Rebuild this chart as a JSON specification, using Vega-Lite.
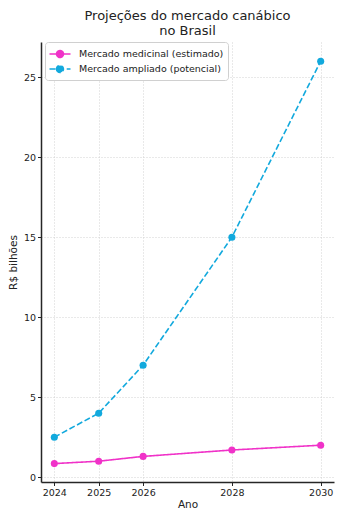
{
  "$schema": "https://vega.github.io/schema/vega-lite/v6.json",
  "width": 293,
  "height": 440,
  "autosize": "none",
  "padding": {"left": 41, "top": 42, "right": 9, "bottom": 38},
  "background": "white",
  "title": {
    "text": ["Projeções do mercado canábico", "no Brasil"],
    "font": "DejaVu Sans",
    "fontSize": 13,
    "fontWeight": "normal",
    "lineHeight": 15,
    "color": "#222222",
    "anchor": "middle",
    "offset": 4
  },
  "config": {
    "view": {"stroke": null},
    "font": "DejaVu Sans",
    "axis": {
      "labelFont": "DejaVu Sans",
      "titleFont": "DejaVu Sans",
      "labelFontSize": 9.5,
      "titleFontSize": 10.5,
      "titleFontWeight": "normal",
      "labelColor": "#222222",
      "titleColor": "#222222",
      "domainColor": "#262626",
      "domainWidth": 1.5,
      "tickColor": "#262626",
      "tickSize": 3.5,
      "tickWidth": 1,
      "gridColor": "#c8c8c8",
      "gridDash": [1, 2],
      "gridWidth": 0.8
    }
  },
  "data": {
    "values": [
      {"ano": 2024, "valor": 0.85, "serie": "Mercado medicinal (estimado)"},
      {"ano": 2025, "valor": 1.0, "serie": "Mercado medicinal (estimado)"},
      {"ano": 2026, "valor": 1.3, "serie": "Mercado medicinal (estimado)"},
      {"ano": 2028, "valor": 1.7, "serie": "Mercado medicinal (estimado)"},
      {"ano": 2030, "valor": 2.0, "serie": "Mercado medicinal (estimado)"},
      {"ano": 2024, "valor": 2.5, "serie": "Mercado ampliado (potencial)"},
      {"ano": 2025, "valor": 4.0, "serie": "Mercado ampliado (potencial)"},
      {"ano": 2026, "valor": 7.0, "serie": "Mercado ampliado (potencial)"},
      {"ano": 2028, "valor": 15.0, "serie": "Mercado ampliado (potencial)"},
      {"ano": 2030, "valor": 26.0, "serie": "Mercado ampliado (potencial)"}
    ]
  },
  "encoding": {
    "x": {
      "field": "ano",
      "type": "quantitative",
      "scale": {"domain": [2023.7, 2030.3], "nice": false, "zero": false},
      "axis": {
        "title": "Ano",
        "values": [2024, 2025, 2026, 2028, 2030],
        "format": "d",
        "labelPadding": 2,
        "titlePadding": 2,
        "labelFlush": false
      }
    },
    "y": {
      "field": "valor",
      "type": "quantitative",
      "scale": {"domain": [-0.3, 27.2], "nice": false, "zero": false},
      "axis": {
        "title": "R$ bilhões",
        "values": [0, 5, 10, 15, 20, 25],
        "labelPadding": 2,
        "titlePadding": 5
      }
    },
    "color": {
      "field": "serie",
      "type": "nominal",
      "sort": ["Mercado medicinal (estimado)", "Mercado ampliado (potencial)"],
      "scale": {
        "domain": ["Mercado medicinal (estimado)", "Mercado ampliado (potencial)"],
        "range": ["#f032c8", "#12a9dd"]
      },
      "legend": {
        "title": null,
        "orient": "none",
        "legendX": 4,
        "legendY": 0,
        "direction": "vertical",
        "padding": 4,
        "rowPadding": 0,
        "fillColor": "white",
        "strokeColor": "#d0d0d0",
        "cornerRadius": 3,
        "labelFont": "DejaVu Sans",
        "labelFontSize": 9.5,
        "labelColor": "#222222",
        "symbolType": "M-1.5,0L1.5,0M-0.5,0A0.5,0.5 0 1,0 0.5,0A0.5,0.5 0 1,0 -0.5,0Z",
        "symbolSize": 196,
        "symbolStrokeWidth": 1.5,
        "symbolOffset": 3,
        "labelOffset": 11,
        "encode": {
          "symbols": {
            "update": {
              "fill": {"scale": "color", "field": "value"},
              "stroke": {"scale": "color", "field": "value"},
              "fillOpacity": {"value": 1},
              "strokeDash": [
                {"test": "datum.value === 'Mercado ampliado (potencial)'", "value": [4, 2]},
                {"value": []}
              ]
            }
          }
        }
      }
    }
  },
  "layer": [
    {
      "mark": {"type": "line", "strokeWidth": 1.6},
      "encoding": {
        "strokeDash": {
          "field": "serie",
          "type": "nominal",
          "scale": {
            "domain": ["Mercado medicinal (estimado)", "Mercado ampliado (potencial)"],
            "range": [[1, 0], [6, 2.6]]
          },
          "legend": null
        }
      }
    },
    {
      "mark": {"type": "point", "filled": true, "size": 50, "opacity": 1}
    }
  ]
}
